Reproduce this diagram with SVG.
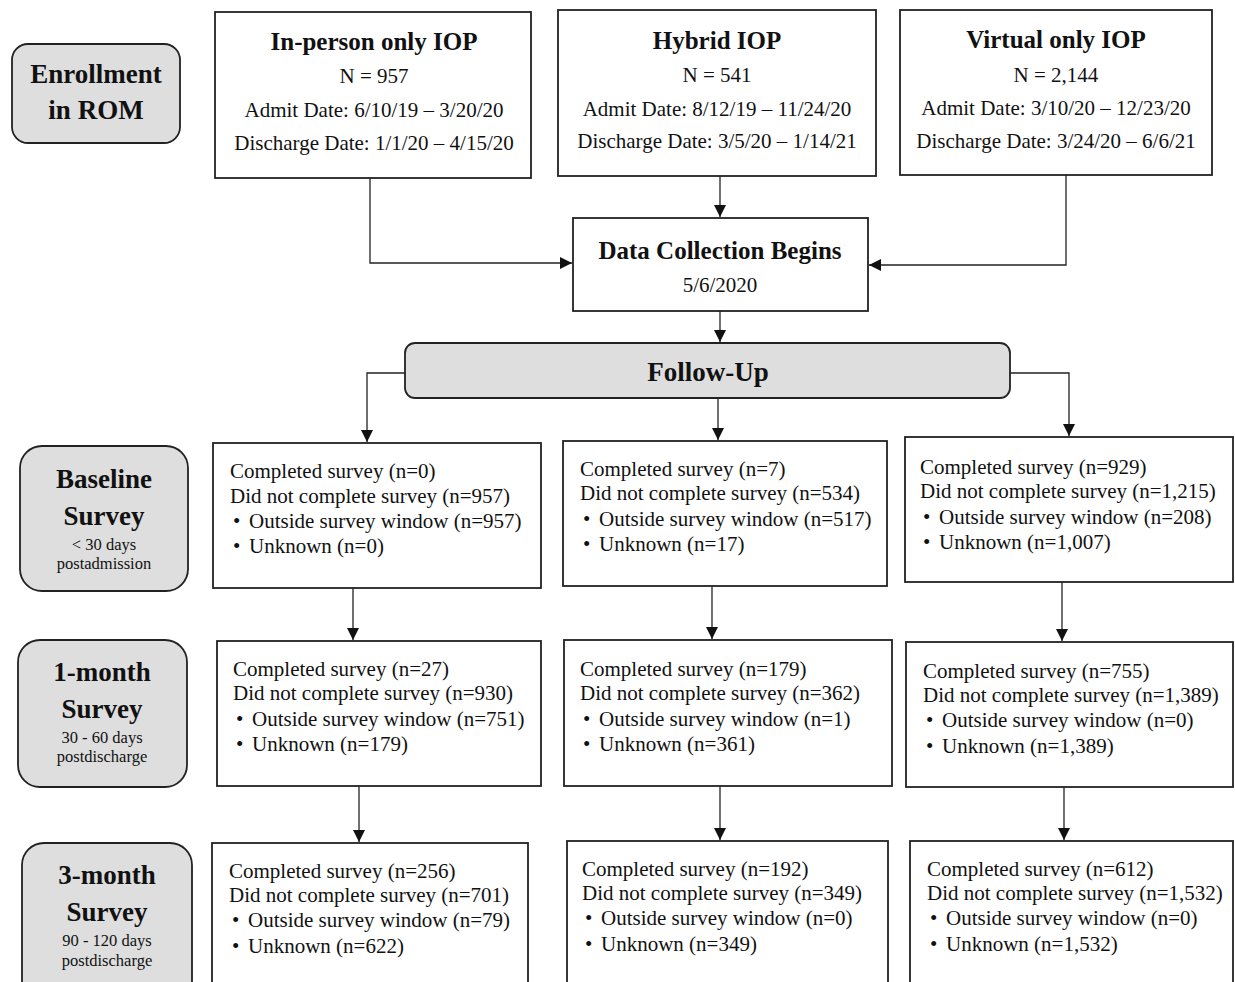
<svg xmlns="http://www.w3.org/2000/svg" width="1235" height="982" viewBox="0 0 1235 982">
<defs>
<marker id="ah" markerUnits="userSpaceOnUse" markerWidth="12" markerHeight="12" refX="12" refY="6" orient="auto"><path d="M0,0 L12,6 L0,12 z" fill="#111"/></marker>
<style>
.box{fill:#fff;stroke:#222;stroke-width:1.8}
.lab{fill:#dedede;stroke:#222;stroke-width:1.8}
.t{font-family:"Liberation Serif","Times New Roman",serif;fill:#111}
.h{font-size:25px;font-weight:bold}
.lb{font-size:27px;font-weight:bold}
.b{font-size:21px}
.s{font-size:16.5px}
.c{stroke:#222;stroke-width:1.3;fill:none;marker-end:url(#ah)}
</style>
</defs>
<rect width="1235" height="982" fill="#fff"/>

<g id="enrollment">
<rect class="lab" x="12" y="44" width="168" height="99" rx="16"/>
<text class="t lb" text-anchor="middle" x="96" y="83">Enrollment</text>
<text class="t lb" text-anchor="middle" x="96" y="119">in ROM</text>
</g>

<g id="inperson">
<rect class="box" x="215" y="12" width="316" height="166"/>
<text class="t h" text-anchor="middle" x="374" y="50">In-person only IOP</text>
<text class="t b" text-anchor="middle" x="374" y="83">N = 957</text>
<text class="t b" text-anchor="middle" x="374" y="117">Admit Date: 6/10/19 – 3/20/20</text>
<text class="t b" text-anchor="middle" x="374" y="150">Discharge Date: 1/1/20 – 4/15/20</text>
</g>

<g id="hybrid">
<rect class="box" x="558" y="10" width="318" height="166"/>
<text class="t h" text-anchor="middle" x="717" y="49">Hybrid IOP</text>
<text class="t b" text-anchor="middle" x="717" y="82">N = 541</text>
<text class="t b" text-anchor="middle" x="717" y="116">Admit Date: 8/12/19 – 11/24/20</text>
<text class="t b" text-anchor="middle" x="717" y="148">Discharge Date: 3/5/20 – 1/14/21</text>
</g>

<g id="virtual">
<rect class="box" x="900" y="10" width="312" height="165"/>
<text class="t h" text-anchor="middle" x="1056" y="48">Virtual only IOP</text>
<text class="t b" text-anchor="middle" x="1056" y="82">N = 2,144</text>
<text class="t b" text-anchor="middle" x="1056" y="115">Admit Date: 3/10/20 – 12/23/20</text>
<text class="t b" text-anchor="middle" x="1056" y="148">Discharge Date: 3/24/20 – 6/6/21</text>
</g>

<g id="datacollection">
<rect class="box" x="573" y="218" width="295" height="93"/>
<text class="t h" text-anchor="middle" x="720" y="259">Data Collection Begins</text>
<text class="t b" text-anchor="middle" x="720" y="292">5/6/2020</text>
</g>

<g id="followup">
<rect class="lab" x="405" y="343" width="605" height="55" rx="10"/>
<text class="t lb" text-anchor="middle" x="708" y="381">Follow-Up</text>
</g>

<g id="baseline-label">
<rect class="lab" x="20" y="446" width="168" height="145" rx="22"/>
<text class="t lb" text-anchor="middle" x="104" y="488">Baseline</text>
<text class="t lb" text-anchor="middle" x="104" y="525">Survey</text>
<text class="t s" text-anchor="middle" x="104" y="550">&lt; 30 days</text>
<text class="t s" text-anchor="middle" x="104" y="569">postadmission</text>
</g>

<g id="baseline-inperson">
<rect class="box" x="213" y="443" width="328" height="145"/>
<text class="t b" x="230" y="478">Completed survey (n=0)</text>
<text class="t b" x="230" y="503">Did not complete survey (n=957)</text>
<text class="t b" x="233" y="528">•</text><text class="t b" x="249" y="528">Outside survey window (n=957)</text>
<text class="t b" x="233" y="553">•</text><text class="t b" x="249" y="553">Unknown (n=0)</text>
</g>

<g id="baseline-hybrid">
<rect class="box" x="563" y="441" width="324" height="145"/>
<text class="t b" x="580" y="476">Completed survey (n=7)</text>
<text class="t b" x="580" y="500">Did not complete survey (n=534)</text>
<text class="t b" x="583" y="526">•</text><text class="t b" x="599" y="526">Outside survey window (n=517)</text>
<text class="t b" x="583" y="551">•</text><text class="t b" x="599" y="551">Unknown (n=17)</text>
</g>

<g id="baseline-virtual">
<rect class="box" x="905" y="437" width="328" height="145"/>
<text class="t b" x="920" y="474">Completed survey (n=929)</text>
<text class="t b" x="920" y="498">Did not complete survey (n=1,215)</text>
<text class="t b" x="923" y="524">•</text><text class="t b" x="939" y="524">Outside survey window (n=208)</text>
<text class="t b" x="923" y="549">•</text><text class="t b" x="939" y="549">Unknown (n=1,007)</text>
</g>

<g id="month1-label">
<rect class="lab" x="18" y="640" width="169" height="147" rx="22"/>
<text class="t lb" text-anchor="middle" x="102" y="681">1-month</text>
<text class="t lb" text-anchor="middle" x="102" y="718">Survey</text>
<text class="t s" text-anchor="middle" x="102" y="743">30 - 60 days</text>
<text class="t s" text-anchor="middle" x="102" y="762">postdischarge</text>
</g>

<g id="month1-inperson">
<rect class="box" x="217" y="641" width="324" height="145"/>
<text class="t b" x="233" y="676">Completed survey (n=27)</text>
<text class="t b" x="233" y="700">Did not complete survey (n=930)</text>
<text class="t b" x="236" y="726">•</text><text class="t b" x="252" y="726">Outside survey window (n=751)</text>
<text class="t b" x="236" y="751">•</text><text class="t b" x="252" y="751">Unknown (n=179)</text>
</g>

<g id="month1-hybrid">
<rect class="box" x="564" y="640" width="328" height="146"/>
<text class="t b" x="580" y="676">Completed survey (n=179)</text>
<text class="t b" x="580" y="700">Did not complete survey (n=362)</text>
<text class="t b" x="583" y="726">•</text><text class="t b" x="599" y="726">Outside survey window (n=1)</text>
<text class="t b" x="583" y="751">•</text><text class="t b" x="599" y="751">Unknown (n=361)</text>
</g>

<g id="month1-virtual">
<rect class="box" x="906" y="642" width="327" height="145"/>
<text class="t b" x="923" y="678">Completed survey (n=755)</text>
<text class="t b" x="923" y="702">Did not complete survey (n=1,389)</text>
<text class="t b" x="926" y="727">•</text><text class="t b" x="942" y="727">Outside survey window (n=0)</text>
<text class="t b" x="926" y="753">•</text><text class="t b" x="942" y="753">Unknown (n=1,389)</text>
</g>

<g id="month3-label">
<rect class="lab" x="22" y="843" width="170" height="160" rx="22"/>
<text class="t lb" text-anchor="middle" x="107" y="884">3-month</text>
<text class="t lb" text-anchor="middle" x="107" y="921">Survey</text>
<text class="t s" text-anchor="middle" x="107" y="946">90 - 120 days</text>
<text class="t s" text-anchor="middle" x="107" y="966">postdischarge</text>
</g>

<g id="month3-inperson">
<rect class="box" x="212" y="843" width="316" height="160"/>
<text class="t b" x="229" y="878">Completed survey (n=256)</text>
<text class="t b" x="229" y="902">Did not complete survey (n=701)</text>
<text class="t b" x="232" y="927">•</text><text class="t b" x="248" y="927">Outside survey window (n=79)</text>
<text class="t b" x="232" y="953">•</text><text class="t b" x="248" y="953">Unknown (n=622)</text>
</g>

<g id="month3-hybrid">
<rect class="box" x="567" y="841" width="321" height="160"/>
<text class="t b" x="582" y="876">Completed survey (n=192)</text>
<text class="t b" x="582" y="900">Did not complete survey (n=349)</text>
<text class="t b" x="585" y="925">•</text><text class="t b" x="601" y="925">Outside survey window (n=0)</text>
<text class="t b" x="585" y="951">•</text><text class="t b" x="601" y="951">Unknown (n=349)</text>
</g>

<g id="month3-virtual">
<rect class="box" x="910" y="841" width="323" height="160"/>
<text class="t b" x="927" y="876">Completed survey (n=612)</text>
<text class="t b" x="927" y="900">Did not complete survey (n=1,532)</text>
<text class="t b" x="930" y="925">•</text><text class="t b" x="946" y="925">Outside survey window (n=0)</text>
<text class="t b" x="930" y="951">•</text><text class="t b" x="946" y="951">Unknown (n=1,532)</text>
</g>

<g id="connectors">
<path class="c" d="M370,178 V263 H572"/>
<path class="c" d="M720,176 V217"/>
<path class="c" d="M1066,175 V265 H869"/>
<path class="c" d="M720,311 V342"/>
<path class="c" d="M405,373 H367 V442"/>
<path class="c" d="M718,398 V440"/>
<path class="c" d="M1010,373 H1069 V436"/>
<path class="c" d="M353,588 V640"/>
<path class="c" d="M712,586 V639"/>
<path class="c" d="M1062,582 V641"/>
<path class="c" d="M359,786 V842"/>
<path class="c" d="M720,786 V840"/>
<path class="c" d="M1064,787 V840"/>
</g>
</svg>
